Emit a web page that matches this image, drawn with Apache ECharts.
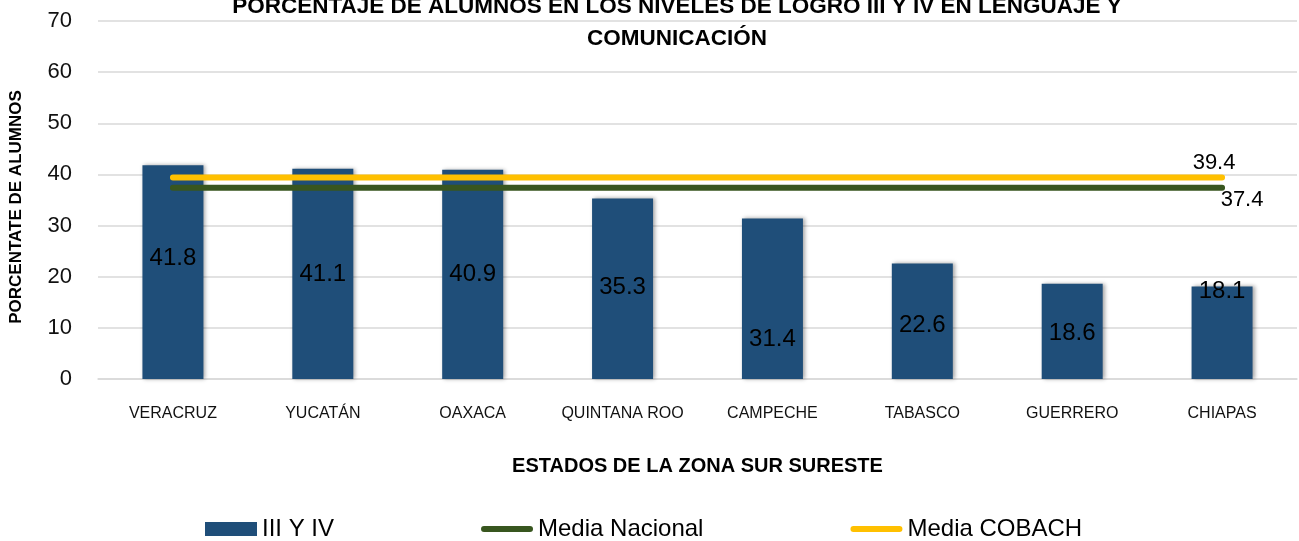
<!DOCTYPE html>
<html lang="es" style="height: 100%; width: 100%; overflow: hidden">
<head>
    <meta charset="UTF-8">
    <title>Niveles de logro</title>
    <script type="text/javascript" src="https://cdn.jsdelivr.net/npm/echarts@6/dist/echarts.min.js"></script>
</head>
<body style="height: 100%; width: 100%; margin: 0">
<div id="container" style="height: 541px; width: 1299px"></div>
</body>
</html>

<script type="text/javascript">

    var estados = ['VERACRUZ', 'YUCATÁN', 'OAXACA', 'QUINTANA ROO', 'CAMPECHE', 'TABASCO', 'GUERRERO', 'CHIAPAS'];
    var nivelesIIIyIV = [41.8, 41.1, 40.9, 35.3, 31.4, 22.6, 18.6, 18.1];
    var mediaNacional = [37.4, 37.4, 37.4, 37.4, 37.4, 37.4, 37.4, 37.4];
    var mediaCobach = [39.4, 39.4, 39.4, 39.4, 39.4, 39.4, 39.4, 39.4];

    // where the labels were dragged to in the original chart
    var labelShift = [-14, 0, 0, -1, 41, 4, 2, -41];

    var font = '"Liberation Sans", Arial, sans-serif';
    var lineIcon = 'path://M3,0 L49,0 A3,3 0 0 1 49,6 L3,6 A3,3 0 0 1 3,0 Z';

    var dom = document.getElementById("container");
    var myChart = echarts.init(dom);

    var option = {
        animation: false,
        textStyle: {fontFamily: font},
        title: {
            text: 'PORCENTAJE DE ALUMNOS EN LOS NIVELES DE LOGRO III Y IV EN LENGUAJE Y\nCOMUNICACIÓN',
            left: 672,
            textAlign: 'center',
            top: -14,
            textStyle: {
                fontFamily: font,
                fontSize: 22.5,
                fontWeight: 'bold',
                color: '#000',
                lineHeight: 32
            }
        },
        legend: {
            top: 512,
            left: 200,
            itemWidth: 52,
            itemHeight: 14,
            itemGap: 147,
            textStyle: {fontFamily: font, fontSize: 24, color: '#000'},
            data: [
                {name: 'III Y IV', icon: 'rect'},
                {name: 'Media Nacional', icon: lineIcon},
                {name: 'Media COBACH', icon: lineIcon}
            ]
        },
        grid: {left: 92, right: 2, top: 21, bottom: 162},
        xAxis: {
            type: 'category',
            data: estados,
            name: 'ESTADOS DE LA ZONA SUR SURESTE',
            nameLocation: 'middle',
            nameGap: 77,
            nameTextStyle: {fontFamily: font, fontSize: 20, fontWeight: 'bold', color: '#000', verticalAlign: 'top'},
            axisLine: {lineStyle: {color: '#d9d9d9', width: 1.5}},
            axisTick: {show: false},
            axisLabel: {fontFamily: font, fontSize: 16, color: '#111', margin: 27, interval: 0}
        },
        yAxis: {
            type: 'value',
            min: 0,
            max: 70,
            interval: 10,
            name: 'PORCENTATE DE ALUMNOS',
            nameLocation: 'middle',
            nameGap: 73,
            nameTextStyle: {fontFamily: font, fontSize: 17, fontWeight: 'bold', color: '#000', padding: [0, 14, 0, 0]},
            axisLine: {show: false},
            axisTick: {show: false},
            axisLabel: {fontFamily: font, fontSize: 22, color: '#111', margin: 26},
            splitLine: {lineStyle: {color: '#d9d9d9', width: 1.5}}
        },
        series: [
            {
                name: 'III Y IV',
                type: 'bar',
                barWidth: 61,
                data: nivelesIIIyIV.map(function (v, i) {
                    return {value: v, label: {offset: [0, labelShift[i]]}};
                }),
                itemStyle: {
                    color: '#1F4E79',
                    shadowBlur: 4,
                    shadowOffsetX: 2,
                    shadowColor: 'rgba(0, 0, 0, 0.35)'
                },
                label: {
                    show: true,
                    position: 'inside',
                    fontFamily: font,
                    fontSize: 24,
                    color: '#000'
                }
            },
            {
                name: 'Media Nacional',
                type: 'line',
                symbol: 'none',
                data: mediaNacional,
                itemStyle: {color: '#38561F'},
                lineStyle: {color: '#38561F', width: 6, cap: 'round'},
                endLabel: {
                    show: true,
                    formatter: '{c}',
                    distance: 0,
                    align: 'center',
                    verticalAlign: 'top',
                    offset: [20, 1],
                    fontFamily: font,
                    fontSize: 22,
                    color: '#000'
                },
                z: 3
            },
            {
                name: 'Media COBACH',
                type: 'line',
                symbol: 'none',
                data: mediaCobach,
                itemStyle: {color: '#FFC000'},
                lineStyle: {color: '#FFC000', width: 6, cap: 'round'},
                endLabel: {
                    show: true,
                    formatter: '{c}',
                    distance: 0,
                    align: 'center',
                    verticalAlign: 'bottom',
                    offset: [-8, -4],
                    fontFamily: font,
                    fontSize: 22,
                    color: '#000'
                },
                z: 4
            }
        ]
    };

    myChart.setOption(option);

</script>
